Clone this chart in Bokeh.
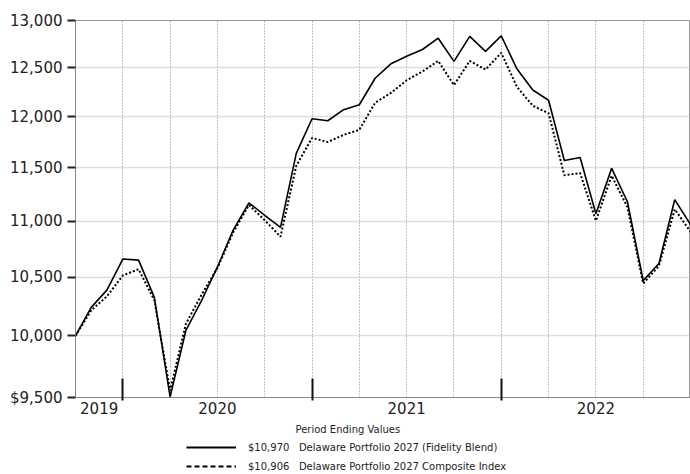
from bokeh.plotting import figure
from bokeh.layouts import column
from bokeh.models import Range1d, FixedTicker, NumeralTickFormatter, Legend, LegendItem, Title
from bokeh.embed import file_html
from bokeh.resources import INLINE

# month index 0 = Sep 2019 ... 39 = Dec 2022
months = list(range(40))
fund = [10000, 10240, 10390, 10660, 10650, 10325, 9505, 10045, 10300, 10590,
        10920, 11170, 11055, 10945, 11640, 11980, 11960, 12070, 12120, 12390,
        12540, 12620, 12690, 12810, 12565, 12830, 12670, 12835, 12485, 12270,
        12165, 11570, 11600, 11070, 11495, 11180, 10470, 10620, 11200, 10970]
index = [10000, 10215, 10335, 10515, 10570, 10300, 9555, 10100, 10350, 10580,
         10900, 11150, 11010, 10860, 11520, 11790, 11750, 11820, 11870, 12140,
         12240, 12370, 12460, 12570, 12320, 12570, 12480, 12655, 12300, 12110,
         12035, 11430, 11450, 11005, 11425, 11130, 10445, 10600, 11110, 10906]

year_labels = ["2019", "2020", "2021", "2022"]
year_label_pos = [1.5, 9, 21, 33]
year_bounds = [3, 15, 27]
quarter_grid = list(range(0, 40, 3))
y_ticks = [9500, 10000, 10500, 11000, 11500, 12000, 12500, 13000]

series_names = ["Delaware Portfolio 2027 (Fidelity Blend)",
                "Delaware Portfolio 2027 Composite Index"]
ending_values = ["$10,970", "$10,906"]
legend_title = "Period Ending Values"

FONT = "DejaVu Sans"

p = figure(frame_width=615, frame_height=377, y_axis_type="log",
           x_range=Range1d(0, 39), y_range=Range1d(9500, 13000),
           output_backend="svg", toolbar_location=None,
           min_border_left=75, min_border_right=0, min_border_top=20,
           min_border_bottom=41)
p.background_fill_color = "white"
p.border_fill_color = "white"
p.outline_line_color = "#999999"

r1 = p.line(months, fund, line_color="black", line_width=1.6)
r2 = p.line(months, index, line_color="black", line_width=2, line_dash="2 2")

# y axis
ya = p.yaxis[0]
ya.ticker = FixedTicker(ticks=y_ticks)
ya.formatter = NumeralTickFormatter(format="0,0")
ya.major_label_overrides = {9500: "$9,500"}
ya.major_tick_in = 0
ya.major_tick_out = 8
ya.major_tick_line_width = 2
ya.major_tick_line_color = "#222222"
ya.minor_tick_in = 0
ya.minor_tick_out = 0
ya.axis_line_color = "#888888"
ya.major_label_standoff = 5
ya.major_label_text_font = FONT
ya.major_label_text_font_size = "15px"
ya.major_label_text_color = "#222222"

# x axis
xa = p.xaxis[0]
xa.ticker = FixedTicker(ticks=year_label_pos, minor_ticks=year_bounds)
xa.major_label_overrides = {pos: lab for pos, lab in zip(year_label_pos, year_labels)}
xa.major_tick_in = 0
xa.major_tick_out = 0
xa.minor_tick_in = 19
xa.minor_tick_out = 3
xa.minor_tick_line_color = "#111111"
xa.minor_tick_line_width = 2
xa.axis_line_color = "#888888"
xa.major_label_standoff = 1
xa.major_label_text_font = FONT
xa.major_label_text_font_size = "15px"
xa.major_label_text_color = "#222222"

# grids
p.xgrid.ticker = FixedTicker(ticks=quarter_grid)
p.xgrid.grid_line_color = "#888888"
p.xgrid.grid_line_width = 1
p.xgrid.grid_line_dash = "1 2"
p.ygrid.ticker = FixedTicker(ticks=y_ticks)
p.ygrid.grid_line_color = "#bbbbbb"
p.ygrid.grid_line_width = 1.5
p.ygrid.grid_line_dash = "1 1"

# legend title
t = Title(text=legend_title, align="left", offset=220,
          text_font=FONT, text_font_size="10px", text_font_style="normal",
          text_color="#222222", standoff=10)
p.add_layout(t, "below")

# legend strip (separate small figure so the legend is not clipped);
# its series lie far outside this strip's ranges, so only the legend shows
leg = figure(width=690, height=37, x_range=Range1d(-100, -99), y_range=Range1d(0, 1),
             output_backend="svg", toolbar_location=None,
             x_axis_location=None, y_axis_location=None,
             min_border=0, min_border_left=0, min_border_right=0,
             min_border_top=0, min_border_bottom=0)
leg.outline_line_color = None
leg.xgrid.visible = False
leg.ygrid.visible = False
leg.background_fill_color = "white"
leg.border_fill_color = "white"
k1 = leg.line(months, fund, line_color="black", line_width=1.8)
k2 = leg.line(months, index, line_color="black", line_width=2, line_dash="5 3")

labels = [f"{v}\u00a0\u00a0\u00a0{n}" for v, n in zip(ending_values, series_names)]
legend = Legend(items=[LegendItem(label=labels[0], renderers=[k1]),
                       LegendItem(label=labels[1], renderers=[k2])],
                location=(111, 1), orientation="vertical",
                glyph_width=50, glyph_height=18, label_height=18,
                label_standoff=12, padding=0, spacing=1, margin=0,
                border_line_color=None, background_fill_alpha=0,
                label_text_font=FONT, label_text_font_size="10px",
                label_text_color="#222222")
leg.add_layout(legend, "center")

layout = column(p, leg, spacing=0)
open("out.html", "w").write(file_html(layout, INLINE))
